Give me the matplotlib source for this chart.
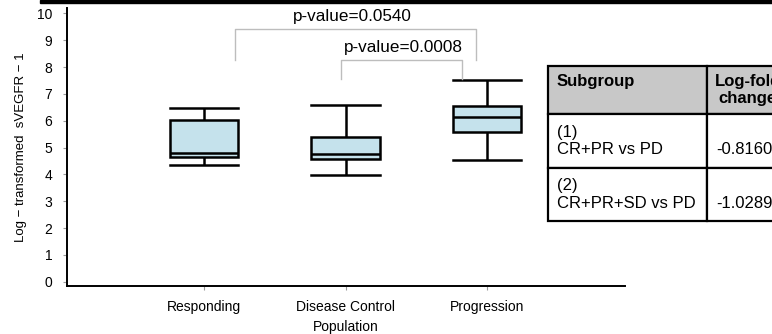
import matplotlib
matplotlib.use("Agg")
import matplotlib.pyplot as plt
from matplotlib.patches import Rectangle

plt.rcParams['font.family'] = ['Liberation Sans', 'DejaVu Sans']

# box summary values
groups = ["Responding", "Disease Control", "Progression"]
whisker_low = [4.35, 3.96, 4.52]
quart_low = [4.63, 4.59, 5.58]
medians = [4.79, 4.77, 6.12]
quart_high = [6.01, 5.41, 6.53]
whisker_high = [6.49, 6.59, 7.50]

# significance brackets
bracket_left = [0.22, 0.966]
bracket_right = [1.92, 1.82]
bracket_top = [9.42, 8.27]
bracket_foot = [8.27, 7.57]
pvalue_labels = ["p-value=0.0540", "p-value=0.0008"]
pvalue_x = [1.05, 1.41]
pvalue_y = [9.89, 8.74]

# side table
table_header = ["Subgroup\n", "Log-fold\nchange"]
table_subgroups = ["(1)\nCR+PR vs PD", "(2)\nCR+PR+SD vs PD"]
table_changes = ["-0.8160", "-1.0289"]

BOX_FILL = "#c5e2ec"
BRACKET_GREY = "#bdbdbd"
TICK_GREY = "#9a9a9a"

fig = plt.figure(figsize=(7.72, 3.34), dpi=100)
ax = fig.add_axes([67 / 772, 48 / 334, 558 / 772, 278 / 334])

stats = []
for i, name in enumerate(groups):
    stats.append({
        "label": name,
        "whislo": whisker_low[i],
        "q1": quart_low[i],
        "med": medians[i],
        "q3": quart_high[i],
        "whishi": whisker_high[i],
        "fliers": [],
    })

lw = 1.8
ax.bxp(stats, positions=range(len(groups)), widths=0.487, capwidths=0.487,
       patch_artist=True, showfliers=False,
       boxprops=dict(facecolor=BOX_FILL, edgecolor="black", linewidth=lw),
       medianprops=dict(color="black", linewidth=lw),
       whiskerprops=dict(color="black", linewidth=lw, solid_capstyle="butt"),
       capprops=dict(color="black", linewidth=lw))

for i in range(len(bracket_left)):
    ax.plot([bracket_left[i], bracket_left[i], bracket_right[i], bracket_right[i]],
            [bracket_foot[i], bracket_top[i], bracket_top[i], bracket_foot[i]],
            color=BRACKET_GREY, linewidth=1.0)
    ax.text(pvalue_x[i], pvalue_y[i], pvalue_labels[i], ha="center", va="center",
            fontsize=12.3)

ax.set_xlim(-0.968, 2.975)
ax.set_ylim(-0.16, 10.2)
ax.set_yticks(range(0, 11))
ax.set_xticks(range(len(groups)))
ax.set_xticklabels(groups)
for side in ["top", "right"]:
    ax.spines[side].set_visible(False)
for side in ["left", "bottom"]:
    ax.spines[side].set_linewidth(1.4)
ax.tick_params(axis="both", length=3, width=0.8, color=TICK_GREY, labelsize=10)
ax.tick_params(axis="y", pad=7.5)
ax.tick_params(axis="x", pad=7)
ax.set_ylabel("Log \u2212 transformed  sVEGFR \u2212 1", fontsize=9.5, labelpad=7)
# nudged up a little so the label is not cut by the bottom edge
ax.set_xlabel("Population", fontsize=10, labelpad=4.5)

# table sits on its own axes, its right side runs off the figure
tax = fig.add_axes([548 / 772, 113 / 334, 245 / 772, 155 / 334])
tax.axis("off")
cells = [[table_subgroups[i], "\n" + table_changes[i]] for i in range(len(table_subgroups))]
tab = tax.table(cellText=cells, colLabels=table_header, cellLoc="left", colLoc="left",
                colWidths=[158.7, 86.3], bbox=[0, 0, 1, 1])
tab.auto_set_font_size(False)
tab.set_fontsize(12)
row_heights = [48, 54, 53]
col_px = [158.7, 86.3]
for (r, c), cell in tab.get_celld().items():
    cell.set_height(row_heights[r])
    cell.set_linewidth(1.6)
    cell.PAD = (9 if c == 0 else 10) / col_px[c]
    if r == 0:
        cell.set_facecolor("#c8c8c8")
        cell.get_text().set_fontweight("bold")
        if c == 1:
            cell.PAD = 8 / col_px[c]
            cell.get_text().set_multialignment("center")

# dark strip along the top edge of the screenshot
fig.patches.append(Rectangle((40 / 772, 1 - 3 / 334), 1, 3 / 334,
                             transform=fig.transFigure, color="black"))

fig.savefig("out.png", dpi=100)
